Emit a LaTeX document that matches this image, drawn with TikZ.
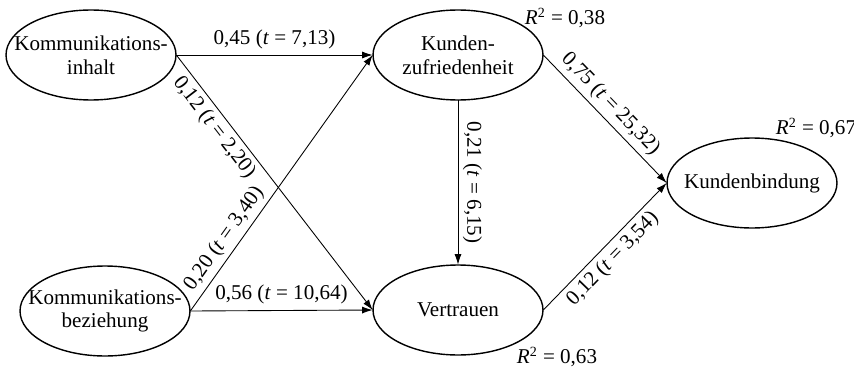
\documentclass[tikz,border=0pt]{standalone}
\usepackage{fontspec}
\setmainfont{Liberation Serif}
\usetikzlibrary{positioning,arrows.meta}

\begin{document}
\begin{tikzpicture}[
x=0.02cm,y=-0.02cm,
>={Latex[length=6pt,width=4pt]},
font=\fontsize{12}{13.5}\selectfont,
construct/.style={
rectangle,
minimum width=3.4cm,
minimum height=1.8cm,
inner sep=0pt,
align=center},
rim/.style={draw,line width=.8pt},
effect/.style={->,line width=.5pt},
coef/.style={sloped,inner sep=2.5pt}
]

\useasboundingbox (0,0) rectangle (854,368);

\node[construct] (ki) at (91,55) {Kommunikations-\\inhalt};
\node[construct] (kz) at (458,55) {Kunden-\\zufriedenheit};
\node[construct] (kbz) at (105,311) {Kommunikations-\\beziehung};
\node[construct] (ve) at (458,310) {Vertrauen};
\node[construct] (kb) at (752,183) {Kundenbindung};

% ellipse outlines
\foreach \n in {ki,kz,kbz,ve,kb}
\path[rim] (\n.center) ellipse [x radius=1.7cm,y radius=.9cm];

\node (r1) at (565,18) {\textit{R}\textsuperscript{2} = 0,38};
\node (r2) at (816,128) {\textit{R}\textsuperscript{2} = 0,67};
\node (r3) at (557,357) {\textit{R}\textsuperscript{2} = 0,63};

\draw[effect] (ki.east) -- node[above] {0,45 (\textit{t} = 7,13)} (kz.west);
\draw[effect] (ki.east) -- node[coef,below,pos=.25] {0,12 (\textit{t} = 2,20)} (ve.west);
\draw[effect] (kbz.east) -- node[coef,above,pos=.25] {0,20 (\textit{t} = 3,40)} (kz.west);
\draw[effect] (kbz.east) -- node[above] {0,56 (\textit{t} = 10,64)} (ve.west);
\draw[effect] (kz.south) -- node[coef,above] {0,21 (\textit{t} = 6,15)} (ve.north);
\draw[effect] (kz.east) -- node[coef,above,pos=.46] {0,75 (\textit{t} = 25,32)} (kb.west);
\draw[effect] (ve.east) -- node[coef,below,pos=.48] {0,12 (\textit{t} = 3,54)} (kb.west);

\end{tikzpicture}
\end{document}
